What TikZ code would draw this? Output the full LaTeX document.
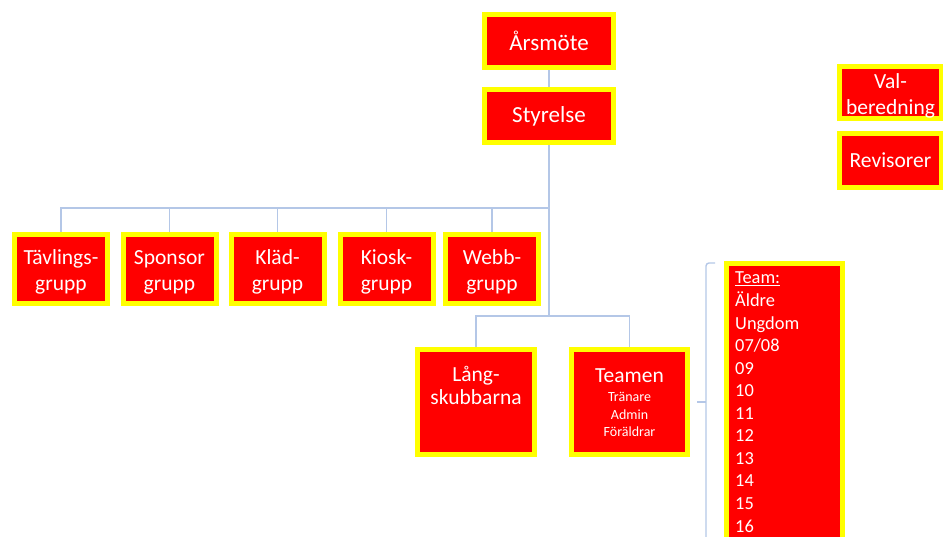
\documentclass[tikz,border=0pt]{standalone}
\usepackage{fontspec}
\setmainfont{Carlito}
\usetikzlibrary{backgrounds}
\definecolor{boxred}{RGB}{255,0,0}
\definecolor{boxyellow}{RGB}{255,255,0}
\definecolor{linecol}{RGB}{180,199,231}
\newcommand{\toppad}{\rule{0pt}{21pt}}
\begin{document}
\begin{tikzpicture}[x=1pt,y=-1pt,
  box/.style={draw=boxyellow, line width=5pt, fill=boxred, inner sep=0pt, text=white, align=center, font=\fontsize{21.5}{26}\selectfont},
  grp/.style={box, minimum width=93pt, minimum height=69pt},
  conn/.style={draw=linecol, line width=1.4pt},
  lbl/.style={text=white, inner sep=0pt, font=\fontsize{21.5}{26}\selectfont, anchor=base},
  sub/.style={text=white, inner sep=0pt, font=\fontsize{14}{17}\selectfont, anchor=base},
  item/.style={text=white, inner sep=0pt, font=\fontsize{18.4}{22.5}\selectfont, anchor=base west}]
\useasboundingbox (0,0) rectangle (943,537);
\clip (0,0) rectangle (943,537);

% top boxes
\node[box, font=\fontsize{23}{27}\selectfont, minimum width=129pt, minimum height=53pt] (ars) at (549,41) {Årsmöte};
\node[box, font=\fontsize{23}{27}\selectfont, minimum width=129pt, minimum height=53pt] (sty) at (549,116) {Styrelse};

% side boxes
\node[box, minimum width=102pt, minimum height=52pt] (val) at (890.5,92.5) {\toppad Val-\\beredning};
\node[box, minimum width=102pt, minimum height=54pt] (rev) at (890.5,160.5) {Revisorer};

% group row
\node[grp] (tav) at (61,269) {\toppad Tävlings-\\grupp};
\node[grp] (spo) at (169.5,269) {\toppad Sponsor\\grupp};
\node[grp] (kla) at (277.5,269) {\toppad Kläd-\\grupp};
\node[grp] (kio) at (386.5,269) {\toppad Kiosk-\\grupp};
\node[grp] (web) at (492,269) {\toppad Webb-\\grupp};

% lower boxes
\node[box, minimum width=117pt, minimum height=105pt] (lang) at (476,402) {};
\node[lbl] (langA) at (476,382) {Lång-};
\node[lbl] (langB) at (476,405) {skubbarna};

\node[box, minimum width=116pt, minimum height=105pt] (team) at (629.5,402) {};
\node[lbl] (teamA) at (629.5,383) {Teamen};
\node[sub] (teamB) at (629.5,402) {Tränare};
\node[sub] (teamC) at (629.5,419) {Admin};
\node[sub] (teamD) at (629.5,436) {Föräldrar};

% team list
\node[box, minimum width=116pt, minimum height=297pt] (list) at (784.5,412) {};
\node[item] (li0) at (735,284) {\underline{Team:}};
\foreach \t [count=\i] in {Äldre,Ungdom,07/08,09,10,11,12,13,14,15,16}
  \node[item] (li\i) at (735,{284+\i*22.55}) {\t};

% connectors
\coordinate (busA) at (549,208);
\coordinate (busB) at (549,316);
\coordinate (brTop) at (715,263);
\coordinate (brTopC) at (706,263);
\coordinate (brBot) at (706,560);
\coordinate (brMid) at (706,402);
\coordinate (brTick) at (697,402);
\begin{scope}[on background layer]
\draw[conn] (ars.south) -- (sty.north);
\draw[conn] (sty.south) -- (busB);
\foreach \n in {tav,spo,kla,kio,web}
  \draw[conn] (busA) -| (\n.north);
\draw[conn] (busB) -| (lang.north);
\draw[conn] (busB) -| (team.north);
\draw[conn, rounded corners=3pt] (brTop) -- (brTopC) -- (brBot);
\draw[conn] (brTick) -- (brMid);
\end{scope}
\end{tikzpicture}
\end{document}
